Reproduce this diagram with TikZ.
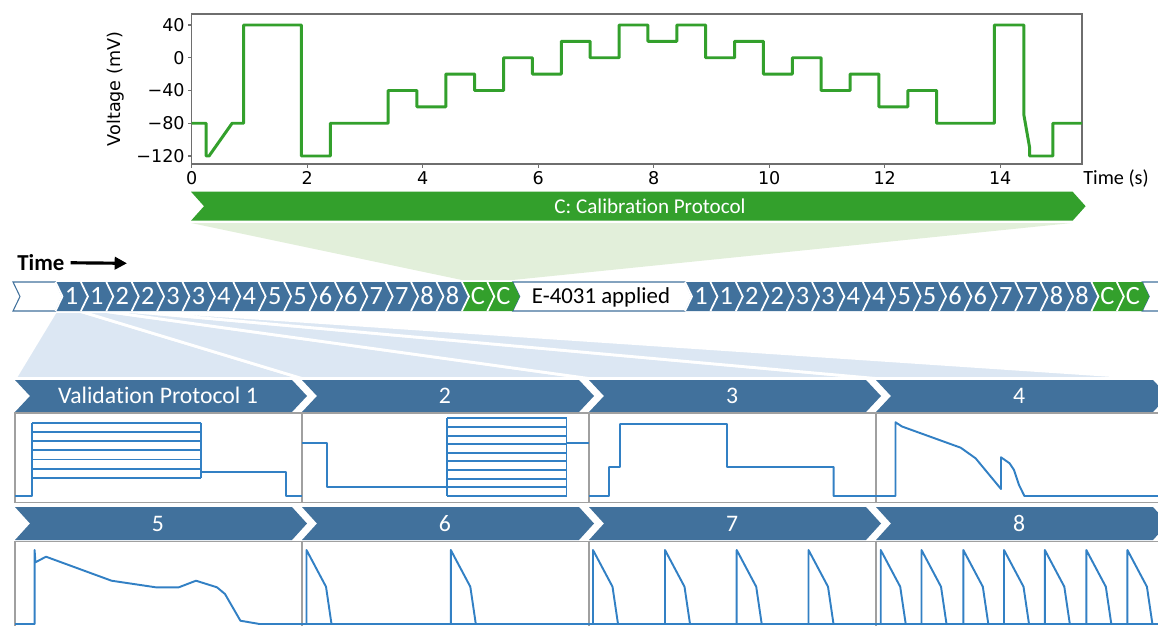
\documentclass[tikz,border=0pt]{standalone}
\usepackage{fontspec}
\setmainfont{Carlito}[Ligatures=NoCommon]
\newfontfamily\mplfont{DejaVu Sans}
\usetikzlibrary{arrows.meta}

\definecolor{protblue}{RGB}{65,113,156}
\definecolor{calgreen}{RGB}{51,160,44}
\definecolor{funblue}{RGB}{220,231,243}
\definecolor{fungreen}{RGB}{226,239,218}
\definecolor{traceblue}{RGB}{50,128,196}
\definecolor{boxgray}{RGB}{160,160,160}
\definecolor{axgray}{RGB}{110,110,110}

\tikzset{
  calline/.style={calgreen, line width=1.7pt, line join=round},
  trace/.style={traceblue, line width=1.1pt, line join=round},
  panelbox/.style={draw=boxgray, line width=0.6pt},
  funnel/.style={fill=funblue, draw=white, line width=1.6pt},
  tick/.style={font=\mplfont\fontsize{10}{12}\selectfont, inner sep=0pt},
  chevlab/.style={text=white, font=\fontsize{13.5}{16}\selectfont, inner sep=0pt, anchor=base},
  tlnum/.style={text=white, font=\fontsize{15}{17}\selectfont, inner sep=0pt, anchor=base},
  timearrow/.style={line width=1.8pt, -{Triangle[length=7pt, width=7pt]}},
}

\newcommand{\chevshape}[5]{(#1,#3) -- (#2,#3) -- ({#2+#5},{(#3+#4)/2}) -- (#2,#4) -- (#1,#4) -- ({#1+#5},{(#3+#4)/2}) -- cycle}

\begin{document}
\begin{tikzpicture}[x=0.02cm, y=-0.02cm]
\useasboundingbox (0,0) rectangle (1158,625);
\clip (0,0) rectangle (1158,625);

% zoom funnels
\fill[fungreen] (191,223) -- (1072,223) -- (512.7,280) -- (461.9,280) -- cycle;
\foreach \k/\br in {0/302,1/589,2/876,3/1156}
  \filldraw[funnel] ({55.5+25.4*\k},311.5) -- ({80.9+25.4*\k},311.5) -- (\br,378.5) -- ({15+287*\k},378.5) -- cycle;

% calibration protocol plot
\draw[axgray, line width=0.6pt] (191.7,14) rectangle (1082,164);
\foreach \t in {0,2,...,14} {
  \draw[axgray, line width=0.6pt] ({191.7+57.75*\t},164) -- ++(0,4);
  \node[tick] (xt\t) at ({191.7+57.75*\t},178) {\t};
}
\foreach \v/\lab in {40/40,0/0,-40/−40,-80/−80,-120/−120} {
  \draw[axgray, line width=0.6pt] (191.7,{57.75-0.81875*\v}) -- ++(-4,0);
  \node[tick, anchor=east] (yt\v) at (185,{57.75-0.81875*\v}) {\lab};
}
\node[tick, rotate=90] (ylab) at (116,89) {Voltage (mV)};
\node[font=\fontsize{11.5}{14}\selectfont, anchor=base west, inner sep=0pt] (xlab) at (1083,184.5) {Time (s)};
\begin{scope}[shift={(191.7,57.75)}, xscale=57.75, yscale=-0.81875]
\draw[calline] (0,-80) -- (0.25,-80) -- (0.25,-120) -- (0.3,-120) -- (0.7,-80) -- (0.9,-80)
  -- (0.9,40) -- (1.9,40) -- (1.9,-120) -- (2.4,-120) -- (2.4,-80) -- (3.4,-80)
  -- (3.4,-40) -- (3.9,-40) -- (3.9,-60) -- (4.4,-60) -- (4.4,-20) -- (4.9,-20)
  -- (4.9,-40) -- (5.4,-40) -- (5.4,0) -- (5.9,0) -- (5.9,-20) -- (6.4,-20)
  -- (6.4,20) -- (6.9,20) -- (6.9,0) -- (7.4,0) -- (7.4,40) -- (7.9,40)
  -- (7.9,20) -- (8.4,20) -- (8.4,40) -- (8.9,40) -- (8.9,0) -- (9.4,0)
  -- (9.4,20) -- (9.9,20) -- (9.9,-20) -- (10.4,-20) -- (10.4,0) -- (10.9,0)
  -- (10.9,-40) -- (11.4,-40) -- (11.4,-20) -- (11.9,-20) -- (11.9,-60) -- (12.4,-60)
  -- (12.4,-40) -- (12.9,-40) -- (12.9,-80) -- (13.9,-80) -- (13.9,40) -- (14.41,40)
  -- (14.41,-70) -- (14.51,-110) -- (14.51,-120) -- (14.91,-120) -- (14.91,-80) -- (15.42,-80);
\end{scope}

\fill[calgreen] \chevshape{191}{1072.6}{191.7}{220.7}{13};
\node[chevlab, font=\fontsize{12}{15}\selectfont] (calname) at (650,213.5) {C: Calibration Protocol};

% time line
\node[font=\bfseries\fontsize{13}{15}\selectfont, anchor=base west, inner sep=0pt] (timelab) at (17,270.7) {Time};
\coordinate (arrowend) at (127,263.3);
\draw[timearrow] ([xshift=0.12cm]timelab.east) -- (arrowend);

\foreach \xa/\xb in {13/55.5, 512.7/685, 1142.2/1200}
  \filldraw[fill=white, draw=protblue, line width=0.6pt] \chevshape{\xa}{\xb}{282}{311}{7};
\foreach \base/\side in {55.5/l, 685/r} {
  \foreach \lab [count=\i from 0] in {1,1,2,2,3,3,4,4,5,5,6,6,7,7,8,8,C,C} {
    \pgfmathsetmacro\xa{\base+25.4*\i}
    \pgfmathsetmacro\xb{\xa+25.4}
    \ifnum\i<16 \def\cc{protblue}\else\def\cc{calgreen}\fi
    \fill[\cc] \chevshape{\xa}{\xb}{282}{311}{7};
    \draw[white, line width=1pt] (\xa,282) -- ({\xa+7},296.5) -- (\xa,311);
    \node[tlnum] (\side\i) at ({\xa+16},304.5) {\lab};
  }
}
\node[font=\fontsize{13}{15}\selectfont, anchor=base, inner sep=0pt] (e4031) at (601,303.7) {E-4031 applied};

% validation protocols
\foreach \lab [count=\i from 0] in {Validation Protocol 1,2,3,4} {
  \pgfmathsetmacro\xa{15+287*\i}
  \pgfmathsetmacro\xb{\xa+277}
  \fill[protblue] \chevshape{\xa}{\xb}{380}{412}{15};
  \node[chevlab] (vp\i) at ({\xa+143},403.7) {\lab};
  \draw[panelbox] (\xa,413) rectangle ({\xa+287},502.7);
}
\foreach \lab [count=\i from 4] in {5,6,7,8} {
  \pgfmathsetmacro\xa{15+287*(\i-4)}
  \pgfmathsetmacro\xb{\xa+277}
  \fill[protblue] \chevshape{\xa}{\xb}{507}{540}{15};
  \node[chevlab] (vp\i) at ({\xa+143},531.2) {\lab};
  \draw[panelbox] (\xa,541.7) rectangle ({\xa+287},640);
}

\draw[trace] (15,496) -- (32,496) -- (32,422.7);
\foreach \k in {0,...,6}
  \draw[trace] (32,{422.7+9.2*\k}) -- (201,{422.7+9.2*\k});
\draw[trace] (201,422.7) -- (201,477.9);
\draw[trace] (201,471.7) -- (286,471.7) -- (286,496) -- (302,496);

\draw[trace] (302,443.3) -- (327,443.3) -- (327,487.3) -- (447,487.3);
\foreach \k in {0,...,9}
  \draw[trace] (447,{418.3+8.63*\k}) -- (566.5,{418.3+8.63*\k});
\draw[trace] (447,418.3) -- (447,496) (566.5,418.3) -- (566.5,496);
\draw[trace] (566.5,443.3) -- (589,443.3);

\draw[trace] (589,496) -- (609,496) -- (609,467) -- (620,467) -- (620,424) -- (727,424)
  -- (727,467) -- (833.7,467) -- (833.7,496) -- (895.5,496) -- (895.5,422.3) -- (902,426.5)
  -- (960.7,447.7) -- (975.6,458.3) -- (1001,489) -- (1001,457.3) -- (1009.6,463.3)
  -- (1014,470) -- (1019,485) -- (1024.4,496) -- (1158,496);

\draw[trace] (15,624) -- (34.6,624) -- (34.6,550) -- (35.4,562.3) -- (46,556.7) -- (111.5,580.7)
  -- (155.8,587.3) -- (178.8,587.3) -- (196,580.7) -- (217,587.3) -- (225,594) -- (240.4,620.7)
  -- (259.6,624) -- (302,624);
\draw[trace] (302,624) -- (1158,624);
\foreach \u in {306.5,450.8,593,665,736.7,808.5,880.7,921.5,963.3,1004,1044.8,1086.3,1127.4}
  \draw[trace] (\u,624) -- (\u,550) -- ++(14.5,27.3) -- ++(5,9.4) -- ++(5.5,37.3);
\end{tikzpicture}
\end{document}
